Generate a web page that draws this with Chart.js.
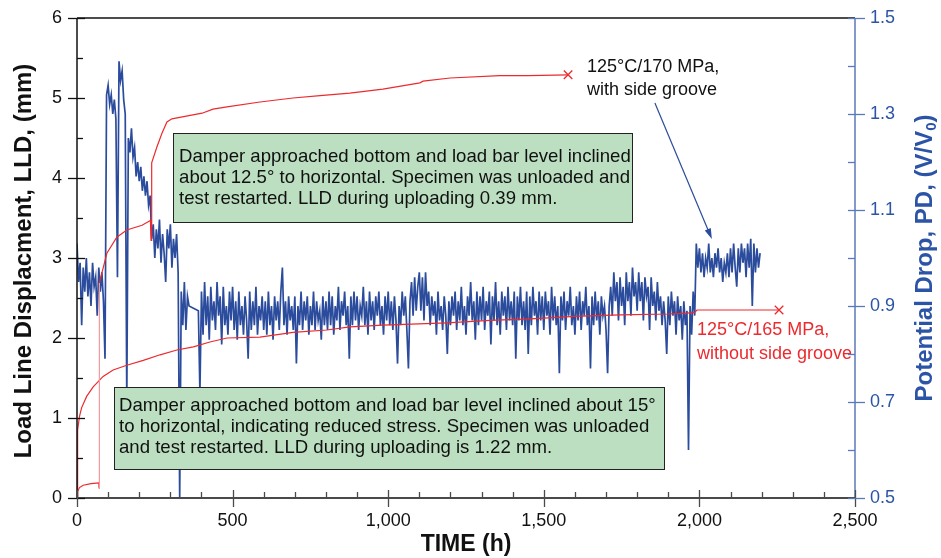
<!DOCTYPE html>
<html lang="en">
<head>
<meta charset="UTF-8" />
<script src="https://cdn.jsdelivr.net/npm/chart.js"></script>
<title>LLD and PD vs time</title>
<style>
  body { margin: 0; background: #fff; }
</style>
</head>
<body>
<canvas id="myChart" width="941" height="558"></canvas>
<script>
// axis ticks
const xTicks = [0, 500, 1000, 1500, 2000, 2500];
const lldTicks = [0, 1, 2, 3, 4, 5, 6];
const pdTicks = [0.5, 0.7, 0.9, 1.1, 1.3, 1.5];

// LLD (mm), 125C/170 MPa with side groove
const lld170Time = [0, 2, 8, 20, 45, 70, 71, 72, 96, 128, 160, 209, 236, 238, 240, 257, 273, 289, 305, 347, 402, 437, 482, 588, 694, 781, 877, 983, 1102, 1112, 1199, 1359, 1450, 1578];
const lld170 = [0, 0.08, 0.13, 0.16, 0.18, 0.19, 0.12, 2.69, 3.06, 3.26, 3.35, 3.41, 3.47, 3.22, 4.19, 4.39, 4.56, 4.70, 4.74, 4.77, 4.81, 4.86, 4.89, 4.95, 5.00, 5.03, 5.06, 5.11, 5.19, 5.21, 5.25, 5.28, 5.28, 5.29];

// LLD (mm), 125C/165 MPa without side groove
const lld165Time = [0, 1, 3, 8, 15, 31, 52, 84, 116, 160, 213, 267, 321, 374, 427, 482, 588, 694, 803, 877, 983, 1189, 1327, 1456, 1600, 1745, 1900, 1960, 1985, 1992, 2100, 2256];
const lld165 = [0, 0.43, 0.85, 1.02, 1.13, 1.27, 1.39, 1.52, 1.60, 1.66, 1.72, 1.79, 1.85, 1.89, 1.95, 2.00, 2.01, 2.07, 2.10, 2.14, 2.16, 2.19, 2.22, 2.24, 2.27, 2.29, 2.30, 2.31, 2.32, 2.35, 2.35, 2.35];

// potential drop PD (V/V0), one reading every 5 h from t = 0
const pdStepHours = 5;
const pd = [
  1.03, 0.95, 0.99, 0.86, 0.98, 0.93, 1.00, 0.92, 0.97, 0.90, 0.99, 0.94, 0.96, 0.88, 0.98, 0.93, 0.97, 0.91, 0.79, 1.34,
  1.36, 1.32, 1.34, 1.30, 1.33, 1.29, 0.96, 1.41, 1.37, 1.39, 1.33, 1.30, 0.70, 1.25, 1.22, 1.27, 1.21, 1.23, 1.17, 1.20,
  1.16, 1.19, 1.14, 1.17, 1.13, 1.16, 1.11, 1.13, 1.04, 1.07, 1.00, 1.06, 1.02, 1.08, 0.99, 1.05, 1.01, 0.95, 1.06, 1.02,
  1.07, 0.98, 1.04, 1.00, 1.05, 0.97, 0.50, 0.93, 0.86, 0.95, 0.85, 0.92, 0.90, null, null, null, null, null, 0.89, 0.72,
  0.93, 0.84, 0.95, 0.86, 0.92, 0.83, 0.94, 0.87, 0.91, 0.85, 0.95, 0.88, 0.92, 0.82, 0.94, 0.86, 0.90, 0.84, 0.93, 0.87,
  0.94, 0.85, 0.91, 0.83, 0.93, 0.86, 0.90, 0.84, 0.92, 0.87, 0.79, 0.93, 0.85, 0.91, 0.86, 0.94, 0.84, 0.90, 0.87, 0.92,
  0.85, 0.91, 0.84, 0.93, 0.86, 0.90, 0.83, 0.92, 0.87, 0.91, 0.85, 0.93, 0.98, 0.86, 0.91, 0.84, 0.92, 0.87, 0.90, 0.85,
  0.92, 0.78, 0.90, 0.86, 0.93, 0.85, 0.91, 0.87, 0.92, 0.84, 0.90, 0.86, 0.93, 0.85, 0.91, 0.87, 0.89, 0.83, 0.92, 0.86,
  0.91, 0.85, 0.93, 0.86, 0.92, 0.84, 0.90, 0.87, 0.94, 0.85, 0.91, 0.88, 0.93, 0.86, 0.90, 0.79, 0.92, 0.86, 0.93, 0.87,
  0.92, 0.85, 0.90, 0.88, 0.94, 0.86, 0.91, 0.84, 0.93, 0.87, 0.91, 0.85, 0.92, 0.88, 0.93, 0.86, 0.90, 0.84, 0.92, 0.87,
  0.93, 0.86, 0.91, 0.85, 0.92, 0.87, 0.78, 0.90, 0.86, 0.93, 0.88, 0.92, 0.85, 0.77, 0.91, 0.95, 0.88, 0.96, 0.89, 0.94,
  0.97, 0.89, 0.96, 0.87, 0.97, 0.90, 0.93, 0.86, 0.92, 0.88, 0.91, 0.84, 0.93, 0.87, 0.90, 0.85, 0.92, 0.88, 0.80, 0.91,
  0.86, 0.92, 0.88, 0.93, 0.85, 0.91, 0.87, 0.94, 0.86, 0.90, 0.84, 0.92, 0.88, 0.95, 0.87, 0.91, 0.83, 0.93, 0.86, 0.92,
  0.87, 0.94, 0.85, 0.91, 0.88, 0.93, 0.82, 0.92, 0.87, 0.95, 0.86, 0.91, 0.84, 0.93, 0.88, 0.92, 0.85, 0.94, 0.87, 0.91,
  0.86, 0.93, 0.79, 0.92, 0.87, 0.94, 0.86, 0.91, 0.85, 0.93, 0.80, 0.92, 0.86, 0.94, 0.88, 0.91, 0.84, 0.93, 0.87, 0.92,
  0.85, 0.93, 0.88, 0.91, 0.84, 0.94, 0.87, 0.92, 0.86, 0.90, 0.76, 0.92, 0.87, 0.93, 0.85, 0.91, 0.88, 0.94, 0.86, 0.90,
  0.84, 0.92, 0.87, 0.93, 0.85, 0.91, 0.88, 0.94, 0.86, 0.90, 0.77, 0.92, 0.86, 0.93, 0.87, 0.91, 0.84, 0.92, 0.88, 0.90,
  0.85, 0.76, 0.90, 0.94, 0.88, 0.97, 0.91, 0.95, 0.87, 0.96, 0.90, 0.94, 0.86, 0.97, 0.91, 0.95, 0.88, 0.98, 0.92, 0.95,
  0.89, 0.97, 0.91, 0.95, 0.87, 0.96, 0.92, 0.94, 0.85, 0.96, 0.90, 0.93, 0.87, 0.95, 0.89, 0.92, 0.86, 0.91, 0.87, 0.80,
  0.92, 0.86, 0.93, 0.88, 0.91, 0.84, 0.92, 0.87, 0.90, 0.83, 0.91, 0.86, 0.89, 0.60, 0.90, 0.84, 0.93, 0.88, 1.03, 0.98,
  1.02, 0.97, 1.01, 0.96, 1.00, 0.98, 1.03, 0.97, 1.00, 0.96, 1.01, 0.98, 1.02, 0.97, 1.00, 0.95, 0.99, 0.97, 1.01, 0.96,
  1.02, 0.97, 1.03, 0.98, 0.94, 1.02, 0.97, 1.03, 0.99, 1.02, 0.96, 1.03, 0.98, 1.04, 0.90, 1.03, 0.97, 1.02, 0.98, 1.01
];

const FONT = "'Liberation Sans', Arial, sans-serif";
const RED = '#ec2a2e';
const BLUE = '#2b4c9c';
const AXBLUE = '#5a78b8';
const TXTBLUE = '#2c54a6';

function xy(times, vals) {
  return vals.map((v, i) => ({ x: times[i], y: v }));
}

function seg(ctx, x0, y0, x1, y1) {
  ctx.beginPath();
  ctx.moveTo(x0, y0);
  ctx.lineTo(x1, y1);
  ctx.stroke();
}

const decor = {
  id: 'decor',
  afterDatasetsDraw(chart) {
    const { ctx, chartArea: a, scales } = chart;
    const X = v => scales.x.getPixelForValue(v);
    const Y = v => scales.y.getPixelForValue(v);
    const Y2 = v => scales.y2.getPixelForValue(v);
    ctx.save();

    // green note boxes
    const notes = [
      { t0: 308, v0: 4.5625, t1: 1783, v1: 3.45, tx: 328, ly: [4.2625, 4.0, 3.7375],
        text: ['Damper approached bottom and load bar level inclined',
               'about 12.5\u00b0 to horizontal. Specimen was unloaded and',
               'test restarted. LLD during uploading 0.39 mm.'] },
      { t0: 119, v0: 1.3875, t1: 1886, v1: 0.3625, tx: 135, ly: [1.15, 0.8875, 0.625],
        text: ['Damper approached bottom and load bar level inclined about 15\u00b0',
               'to horizontal, indicating reduced stress. Specimen was unloaded',
               'and test restarted. LLD during uploading is 1.22 mm.'] }
    ];
    ctx.textBaseline = 'middle';
    notes.forEach(n => {
      const l = Math.round(X(n.t0)) + 0.5, t = Math.round(Y(n.v0)) + 0.5;
      const r = Math.round(X(n.t1)) + 0.5, b = Math.round(Y(n.v1)) + 0.5;
      ctx.fillStyle = '#bcdfc1';
      ctx.fillRect(l, t, r - l, b - t);
      ctx.strokeStyle = '#222';
      ctx.lineWidth = 1;
      ctx.strokeRect(l, t, r - l, b - t);
      ctx.fillStyle = '#111';
      ctx.font = '18.6px ' + FONT;
      n.text.forEach((s, i) => ctx.fillText(s, X(n.tx), Y(n.ly[i])));
    });

    // curve labels
    ctx.font = '18px ' + FONT;
    ctx.fillStyle = '#111';
    ctx.fillText('125\u00b0C/170 MPa,', X(1639), Y(5.3875));
    ctx.fillText('with side groove', X(1639), Y(5.10));
    ctx.fillStyle = RED;
    ctx.fillText('125\u00b0C/165 MPa,', X(1992), Y(2.10));
    ctx.fillText('without side groove', X(1992), Y(1.80));

    // arrow towards the PD data
    const ax0 = X(1857), ay0 = Y(4.9375), ax1 = X(2040), ay1 = Y(3.2375);
    const ang = Math.atan2(ay1 - ay0, ax1 - ax0);
    ctx.strokeStyle = BLUE;
    ctx.fillStyle = BLUE;
    ctx.lineWidth = 1.2;
    seg(ctx, ax0, ay0, ax1 - 6 * Math.cos(ang), ay1 - 6 * Math.sin(ang));
    ctx.beginPath();
    ctx.moveTo(ax1, ay1);
    ctx.lineTo(ax1 - 11 * Math.cos(ang - 0.3), ay1 - 11 * Math.sin(ang - 0.3));
    ctx.lineTo(ax1 - 11 * Math.cos(ang + 0.3), ay1 - 11 * Math.sin(ang + 0.3));
    ctx.closePath();
    ctx.fill();

    // frame lines
    ctx.lineWidth = 1.5;
    ctx.strokeStyle = '#111';
    seg(ctx, a.left, a.top, a.right, a.top);
    seg(ctx, a.left, a.top, a.left, a.bottom);
    ctx.strokeStyle = AXBLUE;
    seg(ctx, a.right, a.top, a.right, a.bottom);
    ctx.strokeStyle = '#4a4a4a';
    ctx.lineWidth = 2;
    seg(ctx, a.left, a.bottom, a.right, a.bottom);

    // tick marks: majors cross the axis, minors inside
    ctx.lineWidth = 1.3;
    ctx.strokeStyle = '#111';
    for (let v = 0; v <= 6.001; v += 0.5) {
      const p = Math.round(Y(v)) + 0.5;
      if (Math.abs(v - Math.round(v)) < 0.01) seg(ctx, a.left - 9, p, a.left + 8, p);
      else seg(ctx, a.left, p, a.left + 6, p);
    }
    ctx.strokeStyle = '#4a4a4a';
    for (let v = 0; v <= 2500; v += 100) {
      const p = Math.round(X(v)) + 0.5;
      if (v % 500 === 0) seg(ctx, p, a.bottom - 8, p, a.bottom + 9);
      else seg(ctx, p, a.bottom - 6, p, a.bottom);
    }
    ctx.strokeStyle = AXBLUE;
    for (let k = 0; k <= 10; k++) {
      const p = Math.round(Y2(0.5 + k * 0.1)) + 0.5;
      if (k % 2 === 0) seg(ctx, a.right - 7, p, a.right + 10, p);
      else seg(ctx, a.right - 7, p, a.right, p);
    }

    // axis titles
    ctx.font = 'bold 24px ' + FONT;
    ctx.textAlign = 'center';
    ctx.textBaseline = 'middle';
    ctx.fillStyle = '#111';
    ctx.font = 'bold 23px ' + FONT;
    ctx.fillText('TIME (h)', (a.left + a.right) / 2, 545);

    ctx.font = 'bold 24px ' + FONT;
    ctx.save();
    ctx.translate(24, (a.top + a.bottom) / 2 + 3);
    ctx.rotate(-Math.PI / 2);
    ctx.fillText('Load Line Displacment, LLD, (mm)', 0, 0);
    ctx.restore();

    ctx.save();
    ctx.translate(925, (a.top + a.bottom) / 2);
    ctx.rotate(-Math.PI / 2);
    ctx.fillStyle = TXTBLUE;
    ctx.textAlign = 'left';
    const main = 'Potential Drop, PD, (V/V', sub = '0', end = ')';
    const wm = ctx.measureText(main).width, we = ctx.measureText(end).width;
    ctx.font = 'bold 15px ' + FONT;
    const ws = ctx.measureText(sub).width;
    const s0 = -(wm + ws + we) / 2;
    ctx.fillText(sub, s0 + wm, 7);
    ctx.font = 'bold 24px ' + FONT;
    ctx.fillText(main, s0, 0);
    ctx.fillText(end, s0 + wm + ws, 0);
    ctx.restore();

    ctx.restore();
  }
};

const lastOnly = n => c => (c.dataIndex === n - 1 ? 6 : 0);

new Chart(document.getElementById('myChart'), {
  type: 'line',
  data: {
    datasets: [
      {
        data: xy(lld170Time, lld170),
        yAxisID: 'y',
        borderColor: RED,
        borderWidth: 1.2,
        pointStyle: 'crossRot',
        pointRadius: lastOnly(lld170.length),
        pointBorderColor: RED,
        pointBorderWidth: 1.3,
        segment: { borderColor: c => (c.p1.parsed.y - c.p0.parsed.y > 2 ? '#f39a9c' : RED) }
      },
      {
        data: xy(lld165Time, lld165),
        yAxisID: 'y',
        borderColor: RED,
        borderWidth: 1.2,
        pointStyle: 'crossRot',
        pointRadius: lastOnly(lld165.length),
        pointBorderColor: RED,
        pointBorderWidth: 1.3
      },
      {
        data: pd.map((v, i) => ({ x: i * pdStepHours, y: v })),
        yAxisID: 'y2',
        borderColor: BLUE,
        borderWidth: 1.7,
        pointRadius: 0,
        spanGaps: true
      }
    ]
  },
  options: {
    responsive: false,
    animation: false,
    events: [],
    layout: { padding: { top: 18, left: 0, right: 0, bottom: 0 } },
    plugins: { legend: { display: false }, tooltip: { enabled: false } },
    elements: { line: { tension: 0 } },
    scales: {
      x: {
        type: 'linear',
        min: 0,
        max: 2500,
        afterBuildTicks: s => { s.ticks = xTicks.map(v => ({ value: v })); },
        afterFit: s => { s.height = 60; s.paddingLeft = 0; s.paddingRight = 0; },
        grid: { display: false, drawTicks: false },
        border: { display: false },
        ticks: {
          padding: 12,
          maxRotation: 0,
          color: '#111',
          font: { family: FONT, size: 18 },
          callback: v => v.toLocaleString('en-US')
        }
      },
      y: {
        position: 'left',
        min: 0,
        max: 6,
        afterBuildTicks: s => { s.ticks = lldTicks.map(v => ({ value: v })); },
        afterFit: s => { s.width = 77; s.paddingTop = 0; s.paddingBottom = 0; },
        grid: { display: false, drawTicks: false },
        border: { display: false },
        ticks: { padding: 15, color: '#111', font: { family: FONT, size: 18 } }
      },
      y2: {
        position: 'right',
        min: 0.5,
        max: 1.5,
        afterBuildTicks: s => { s.ticks = pdTicks.map(v => ({ value: v })); },
        afterFit: s => { s.width = 86; s.paddingTop = 0; s.paddingBottom = 0; },
        grid: { display: false, drawTicks: false },
        border: { display: false },
        ticks: {
          padding: 15,
          color: TXTBLUE,
          font: { family: FONT, size: 18 },
          callback: v => v.toFixed(1)
        }
      }
    }
  },
  plugins: [decor]
});
</script>
</body>
</html>
